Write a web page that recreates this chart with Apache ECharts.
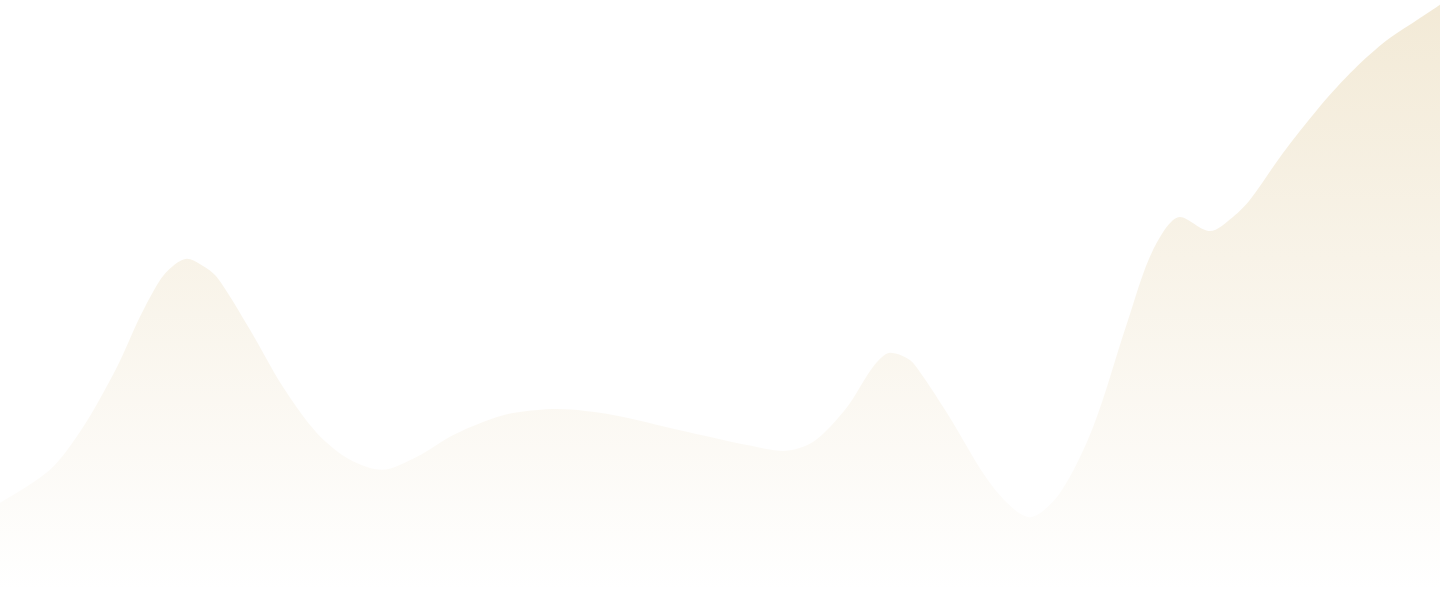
<!DOCTYPE html>
<html>
<head>
<meta charset="utf-8">
<style>
  html, body { margin: 0; padding: 0; background: #ffffff; }
  #chart { width: 1440px; height: 591px; }
</style>
<script src="https://cdn.jsdelivr.net/npm/echarts@6/dist/echarts.min.js"></script>
</head>
<body>
<div id="chart"></div>
<script>
// Sample positions along the horizontal axis
const xValues = [
  0, 2.5, 4.15, 5.85, 7, 8, 8.65, 9.35, 10.05, 10.85, 12.5, 14.15, 15.85, 17.5, 19.1, 20.85,
  22.5, 24, 25.65, 27.85, 30.65, 34, 37.35, 39.15, 40.65, 42.35, 43.65, 44.5, 45.05,
  45.65, 47.35, 49.65, 51.5, 53, 54.65, 56.35, 57.65, 59, 60.5, 61.65,
  62.5, 64.15, 65.85, 67.5, 69.15, 70.85, 72
];
// Series values
const yValues = [
  14.9, 20.5, 27.7, 37.9, 46.4, 52.6, 55.0, 56.2, 55.2, 53.1, 44.2, 34.5, 26.7, 22.2, 20.5, 22.7,
  26.1, 28.4, 30.1, 30.8, 29.8, 27.2, 24.7, 23.7, 25.2, 31.1, 37.9, 40.3, 39.9,
  38.6, 30.1, 17.6, 12.5, 16.6, 27.7, 45.3, 57.7, 63.3, 60.9, 63.3,
  66.2, 74.1, 81.4, 87.6, 92.7, 96.6, 99.2
];

const seriesData = xValues.map((x, i) => [x, yValues[i]]);

const chart = echarts.init(document.getElementById('chart'), null, { renderer: 'canvas' });
chart.setOption({
  animation: false,
  backgroundColor: '#ffffff',
  grid: { left: 0, right: 0, top: 0, bottom: 0 },
  xAxis: { type: 'value', min: 0, max: 72, show: false },
  yAxis: { type: 'value', min: 0, max: 100, show: false },
  series: [{
    type: 'line',
    data: seriesData,
    smooth: 0.3,
    showSymbol: false,
    symbol: 'none',
    lineStyle: { width: 0, opacity: 0 },
    areaStyle: {
      color: new echarts.graphic.LinearGradient(0, 0, 0, 1, [
        { offset: 0, color: 'rgba(220,195,140,0.5)' },
        { offset: 1, color: 'rgba(220,195,140,0)' }
      ])
    }
  }]
});
</script>
</body>
</html>
